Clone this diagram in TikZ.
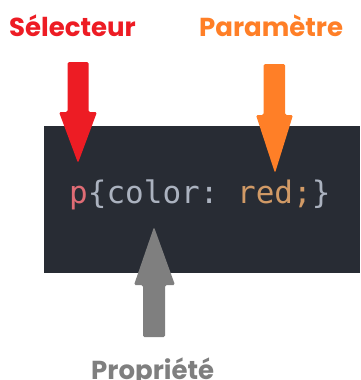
\documentclass[tikz,border=0pt]{standalone}
\usepackage{fontspec}
\setmainfont{Poppins}
\newfontfamily\codefont{DejaVu Sans Mono}
\definecolor{selred}{HTML}{ED1C24}
\definecolor{parorange}{HTML}{FF7F27}
\definecolor{propgray}{HTML}{7F7F7F}
\definecolor{codebg}{HTML}{282C34}
\definecolor{codesel}{HTML}{E06C75}
\definecolor{codetxt}{HTML}{ABB2BF}
\definecolor{codeval}{HTML}{D19A66}
\begin{document}
\begin{tikzpicture}[x=1pt,y=-1pt,
  lbl/.style={font=\bfseries\fontsize{26}{30}\selectfont, inner sep=0pt, anchor=base west},
  code/.style={font=\codefont\fontsize{31}{35}\selectfont, inner sep=0pt, anchor=base west}]
\useasboundingbox (0,0) rectangle (360,380);
\fill[codebg] (44,126) rectangle (360,273);
% labels
\node[lbl, text=selred] (sel) at (9,36) {Sélecteur};
\node[lbl, text=parorange] (par) at (199,36) {Paramètre};
\node[lbl, text=propgray] (prop) at (91,379) {Propriété};
% code
\node[code] (codeline) at (69,203) {\textcolor{codesel}{p}\textcolor{codetxt}{\{color:\ }\textcolor{codeval}{red;}\textcolor{codetxt}{\}}};
% arrows
\fill[selred, rounded corners=1.5pt] (67.5,62) -- (88.5,62) -- (88.5,112) -- (97,112) -- (78,163) -- (59,112) -- (67.5,112) -- cycle;
\fill[parorange, rounded corners=1.5pt] (263.5,64) -- (285,64) -- (285,115) -- (293,115) -- (275,173) -- (256,115) -- (263.5,115) -- cycle;
\fill[propgray, rounded corners=1.5pt] (143,337) -- (165,337) -- (165,285) -- (175,285) -- (154,227) -- (134,285) -- (143,285) -- cycle;
\end{tikzpicture}
\end{document}
